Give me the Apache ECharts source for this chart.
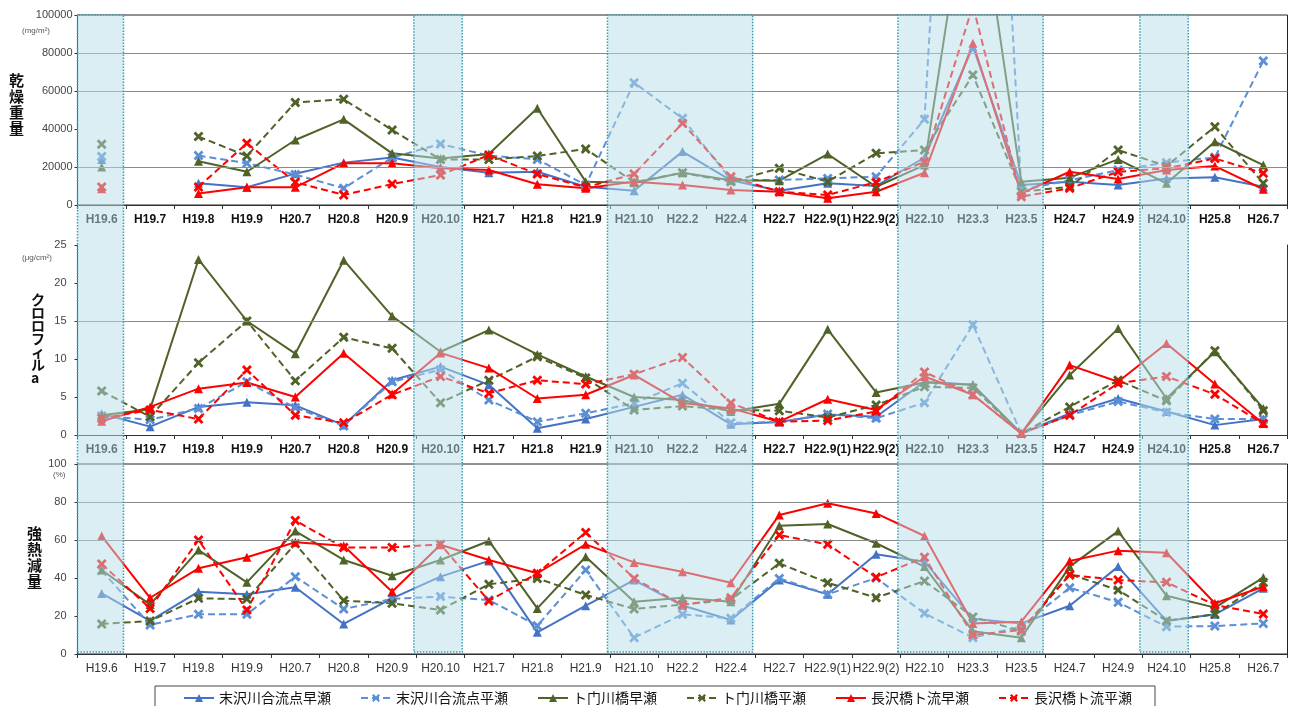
<!DOCTYPE html>
<html>
<head>
<meta charset="utf-8">
<script src="https://cdn.jsdelivr.net/npm/echarts@6/dist/echarts.min.js"></script>
<style>
  html, body { margin: 0; padding: 0; background: #ffffff; }
  #chart { width: 1290px; height: 706px; }
</style>
</head>
<body>
<div id="chart"></div>
<script>
// Survey periods (x axis)
const categories = ['H19.6','H19.7','H19.8','H19.9','H20.7','H20.8','H20.9','H20.10','H21.7','H21.8','H21.9',
  'H21.10','H22.2','H22.4','H22.7','H22.9(1)','H22.9(2)','H22.10','H23.3','H23.5','H24.7','H24.9','H24.10','H25.8','H26.7'];

// Periods shaded as separate campaigns
const bandRanges = [['H19.6','H19.6'], ['H20.10','H20.10'], ['H21.10','H22.4'], ['H22.10','H23.5'], ['H24.10','H24.10']];

// Station names (legend order)
const seriesNames = ['末沢川合流点早瀬','末沢川合流点平瀬','ト门川橋早瀬','ト门川橋平瀬','長沢橋ト流早瀬','長沢橋ト流平瀬'];

// Dry weight (mg/m2)
const dryBlueFast  = [24000, null, 11500, 9300, 16500, 22300, 25000, 20000, 17000, 17500, 9600, 7500, 28100, 13000, 7500, 11400, 10000, 25000, 83300, 10500, 12300, 10500, 14000, 14600, 9600];
const dryBlueSlow  = [25500, null, 26000, 22000, 16000, 8800, 25000, 32100, 26000, 24000, 10500, 64400, 45600, 13200, 13200, 14000, 14900, 45100, 480000, 8000, 13000, 18400, 22300, 25100, 75800];
const dryGreenFast = [20000, null, 23000, 17500, 34200, 45100, 27200, 24500, 26800, 50900, 12300, 11700, 17000, 13000, 12800, 26800, 9600, 21000, 186000, 12300, 14400, 24000, 11400, 33300, 21000];
const dryGreenSlow = [32000, null, 36000, 25800, 54000, 55600, 39500, 24000, 24000, 25800, 29500, 12000, 17000, 12300, 19300, 12300, 27200, 28900, 68400, 7000, 9600, 28900, 20500, 41200, 11400];
const dryRedFast   = [8500, null, 6000, 9300, 9300, 22000, 22000, 19300, 18400, 10900, 8800, 12300, 10500, 7900, 7000, 3500, 7000, 17000, 85100, 6100, 17500, 13700, 18400, 20500, 8300];
const dryRedSlow   = [9500, null, 9500, 32500, 12000, 5300, 11000, 15800, 26300, 16300, 9300, 16300, 43000, 14900, 7000, 5300, 12000, 22800, 105000, 4400, 8800, 17500, 19300, 24500, 16700];

// Chlorophyll a (ug/cm2)
const chlBlueFast  = [2.8, 1.1, 3.7, 4.3, 3.9, 1.3, 7.2, 9.0, 6.6, 0.9, 2.1, 3.7, 5.3, 1.4, 1.7, 2.7, 2.4, 7.0, 6.6, 0.2, 2.85, 4.8, 3.1, 1.3, 2.1];
const chlBlueSlow  = [2.5, 2.0, 3.5, 7.0, 3.6, 1.2, 7.0, 8.6, 4.6, 1.75, 2.85, 4.2, 6.8, 1.6, 1.7, 2.75, 2.2, 4.25, 14.5, 0.2, 2.6, 4.4, 3.0, 2.1, 2.1];
const chlGreenFast = [2.6, 3.4, 23.1, 15.0, 10.7, 23.0, 15.65, 10.95, 13.8, 10.6, 7.7, 5.0, 4.6, 3.1, 4.1, 13.9, 5.6, 6.9, 6.6, 0.2, 7.9, 14.0, 4.8, 10.95, 3.5];
const chlGreenSlow = [5.8, 2.4, 9.5, 15.0, 7.15, 12.85, 11.4, 4.25, 7.2, 10.3, 7.5, 3.3, 3.8, 3.3, 3.2, 2.3, 3.95, 6.35, 6.2, 0.2, 3.7, 7.2, 4.5, 11.1, 3.2];
const chlRedFast   = [1.8, 3.7, 6.1, 6.9, 5.0, 10.75, 5.4, 10.8, 8.8, 4.8, 5.3, 7.9, 4.2, 3.5, 1.75, 4.7, 3.3, 7.7, 5.3, 0.2, 9.2, 7.0, 12.05, 6.7, 1.5];
const chlRedSlow   = [2.2, 3.3, 2.1, 8.55, 2.6, 1.6, 5.3, 7.7, 5.5, 7.2, 6.7, 8.0, 10.2, 4.2, 1.75, 1.9, 3.1, 8.3, 5.3, 0.2, 2.6, 6.8, 7.7, 5.35, 1.5];

// Ignition loss (%)
const ignBlueFast  = [31.9, 17.4, 32.8, 31.4, 35.1, 15.8, 29.3, 40.7, 49.0, 11.4, 25.4, 38.9, 25.5, 17.9, 38.9, 31.4, 52.5, 48.6, 18.5, 16.1, 25.4, 46.0, 17.4, 20.9, 34.6];
const ignBlueSlow  = [44.0, 15.3, 20.9, 20.9, 40.7, 23.7, 29.0, 30.2, 28.4, 14.9, 44.2, 8.6, 20.9, 18.8, 39.8, 31.4, 40.0, 21.4, 8.6, 14.4, 34.9, 27.2, 14.4, 14.7, 16.1];
const ignGreenFast = [44.2, 26.0, 54.7, 37.7, 64.7, 49.5, 41.2, 49.5, 59.5, 24.0, 51.2, 27.5, 29.6, 27.5, 67.5, 68.4, 58.3, 46.0, 12.0, 8.6, 46.0, 64.7, 30.7, 24.4, 40.2];
const ignGreenSlow = [15.8, 17.4, 29.3, 28.9, 58.0, 28.1, 26.7, 23.2, 36.7, 39.8, 31.1, 23.7, 26.0, 28.6, 47.7, 37.5, 29.6, 38.4, 19.5, 12.0, 42.0, 33.7, 17.5, 20.9, 37.6];
const ignRedFast   = [62.1, 29.6, 45.1, 50.9, 58.8, 57.0, 32.8, 57.5, 49.5, 42.5, 57.7, 48.2, 43.3, 37.5, 73.2, 79.3, 74.0, 62.1, 16.1, 17.0, 49.0, 54.4, 53.3, 26.7, 35.4];
const ignRedSlow   = [47.4, 24.0, 60.0, 23.2, 70.2, 56.0, 56.1, 57.7, 27.9, 42.5, 64.0, 39.8, 25.8, 29.6, 62.6, 57.7, 40.4, 50.9, 10.0, 12.6, 41.6, 38.9, 37.7, 25.8, 21.1];

// Horizontal reference lines drawn in each panel
const dryGridLines = [20000, 60000, 80000];
const chlGridLines = [15];
const ignGridLines = [60, 80];

const panels = [
  { data: [dryBlueFast, dryBlueSlow, dryGreenFast, dryGreenSlow, dryRedFast, dryRedSlow], max: 100000, interval: 20000, lines: dryGridLines },
  { data: [chlBlueFast, chlBlueSlow, chlGreenFast, chlGreenSlow, chlRedFast, chlRedSlow], max: 25, interval: 5, lines: chlGridLines },
  { data: [ignBlueFast, ignBlueSlow, ignGreenFast, ignGreenSlow, ignRedFast, ignRedSlow], max: 100, interval: 20, lines: ignGridLines }
];

const CROSS = 'path://M0,2 L2,0 L5,3 L8,0 L10,2 L7,5 L10,8 L8,10 L5,7 L2,10 L0,8 L3,5 Z';
const styles = [
  { color: '#4472c4', dashed: false, symbol: 'triangle', size: 9 },
  { color: '#5b8fd6', dashed: true,  symbol: CROSS, size: 10 },
  { color: '#4f6228', dashed: false, symbol: 'triangle', size: 9 },
  { color: '#4f6228', dashed: true,  symbol: CROSS, size: 10 },
  { color: '#ff0000', dashed: false, symbol: 'triangle', size: 9 },
  { color: '#ff0000', dashed: true,  symbol: CROSS, size: 10 }
];

const GRID_LEFT = 77.5, GRID_WIDTH = 1210;
const grids = [
  { left: GRID_LEFT, width: GRID_WIDTH, top: 15, height: 190, show: true, borderColor: '#222', borderWidth: 1 },
  { left: GRID_LEFT, width: GRID_WIDTH, top: 245, height: 190 },
  { left: GRID_LEFT, width: GRID_WIDTH, top: 464, height: 190, show: true, borderColor: '#222', borderWidth: 1 },
  { left: GRID_LEFT, width: GRID_WIDTH, top: 15, height: 637 }
];

const xAxes = [0, 1, 2].map(i => ({
  type: 'category', gridIndex: i, data: categories, boundaryGap: true,
  axisLine: { lineStyle: { color: '#333', width: 1 } },
  axisTick: { show: true, interval: 0, length: 4, lineStyle: { color: '#333' } },
  axisLabel: {
    interval: 0, margin: 9, color: i === 2 ? '#333' : '#111',
    fontFamily: 'Liberation Sans', fontSize: 12, fontWeight: i === 2 ? 'normal' : 'bold'
  },
  splitLine: { show: false }
}));
xAxes.push({ type: 'value', gridIndex: 3, min: -0.5, max: categories.length - 0.5, show: false });

const yAxes = panels.map((p, i) => ({
  type: 'value', gridIndex: i, min: 0, max: p.max, interval: p.interval,
  axisLine: { show: true, lineStyle: { color: '#333' } },
  axisTick: { show: true, length: 3, lineStyle: { color: '#333' } },
  axisLabel: { color: '#444', fontFamily: 'Liberation Sans', fontSize: 11, margin: i === 0 ? 5 : 11,
    formatter: v => String(v) },
  splitLine: { show: false }
}));
// right edge of the middle panel
yAxes.push({ type: 'value', gridIndex: 1, position: 'right', min: 0, max: 25,
  axisLine: { show: true, lineStyle: { color: '#333' } }, axisTick: { show: false },
  axisLabel: { show: false }, splitLine: { show: false } });
// overlay axis for shaded periods
yAxes.push({ type: 'value', gridIndex: 3, min: 0, max: 1, show: false });

const series = [];
panels.forEach((p, pi) => {
  // reference lines
  series.push({
    type: 'line', xAxisIndex: pi, yAxisIndex: pi, data: categories.map(() => null),
    silent: true, z: 1, symbol: 'none',
    markLine: {
      silent: true, symbol: 'none', label: { show: false }, animation: false,
      lineStyle: { color: '#8a8a8a', width: 1, type: 'solid' },
      data: p.lines.map(v => ({ yAxis: v }))
    }
  });
  p.data.forEach((values, si) => {
    const st = styles[si];
    series.push({
      name: seriesNames[si], type: 'line', xAxisIndex: pi, yAxisIndex: pi,
      data: values, connectNulls: false, showSymbol: true, showAllSymbol: true,
      symbol: st.symbol, symbolSize: st.size, clip: true, z: 3,
      lineStyle: { color: st.color, width: 2, type: st.dashed ? [7, 4] : 'solid' },
      itemStyle: { color: st.color, borderWidth: 0 }
    });
  });
});

// translucent shading laid over the campaign periods
series.push({
  type: 'line', xAxisIndex: 3, yAxisIndex: 4, data: [], silent: true, z: 50,
  markArea: {
    silent: true, z: 60,
    itemStyle: { color: 'rgba(181,221,231,0.5)', borderColor: '#3d9cb3', borderWidth: 1.5, borderType: 'dotted' },
    data: bandRanges.map(([a, b]) => [
      { xAxis: categories.indexOf(a) - 0.55 },
      { xAxis: categories.indexOf(b) + 0.45 }
    ])
  }
});

const titleFont = '"Noto Sans CJK JP", sans-serif';
const option = {
  animation: false,
  backgroundColor: '#ffffff',
  grid: grids,
  xAxis: xAxes,
  yAxis: yAxes,
  legend: {
    data: seriesNames, left: 155, top: 686, orient: 'horizontal',
    padding: [5, 23, 8, 28], itemGap: 29, itemWidth: 30, itemHeight: 10,
    borderColor: '#444', borderWidth: 1,
    textStyle: { fontFamily: titleFont, fontSize: 14, color: '#111' }
  },
  graphic: [
    { type: 'text', left: 9, top: 72, style: { text: '乾\n燥\n重\n量', font: 'bold 15px ' + titleFont, lineHeight: 16, fill: '#111' } },
    { type: 'text', left: 31, top: 293, style: { text: 'ク\nロ\nロ\nフ\nィ\nル\na', font: 'bold 14px ' + titleFont, lineHeight: 13, fill: '#111' } },
    { type: 'text', left: 27, top: 525, style: { text: '強\n熱\n減\n量', font: 'bold 15px ' + titleFont, lineHeight: 16, fill: '#111' } },
    { type: 'text', left: 22, top: 27, style: { text: '(mg/m²)', font: '8px "Liberation Sans"', fill: '#555' } },
    { type: 'text', left: 22, top: 254, style: { text: '(μg/cm²)', font: '8px "Liberation Sans"', fill: '#555' } },
    { type: 'text', left: 53, top: 471, style: { text: '(%)', font: '8px "Liberation Sans"', fill: '#555' } }
  ],
  series: series
};

const chart = echarts.init(document.getElementById('chart'), null, { renderer: 'canvas' });
chart.setOption(option);
</script>
</body>
</html>
